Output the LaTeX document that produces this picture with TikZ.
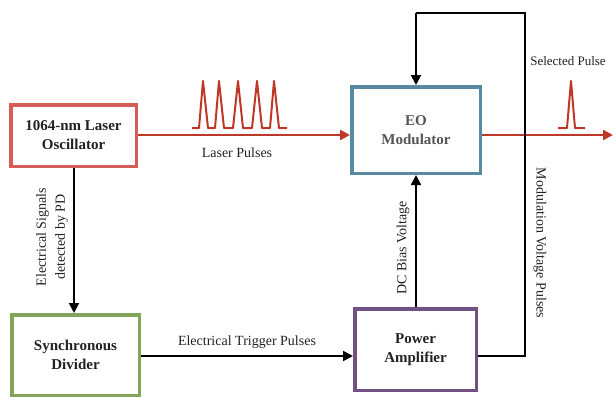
\documentclass[tikz,border=0pt]{standalone}
\usepackage{fontspec}
\setmainfont{Liberation Serif}
\usetikzlibrary{arrows.meta}
\definecolor{laserred}{HTML}{D55E5A}
\definecolor{eoblue}{HTML}{588AA3}
\definecolor{syncgreen}{HTML}{82A55A}
\definecolor{amppurple}{HTML}{735082}
\definecolor{beamred}{HTML}{BE3728}
\definecolor{txt}{HTML}{222222}
\definecolor{eotxt}{HTML}{555555}
\tikzset{
  blockbox/.style={draw, line width=3.5pt, fill=white, align=center, inner sep=0pt,
    font=\fontsize{15}{19}\selectfont\bfseries, text=txt},
  beam/.style={draw=beamred, line width=2.5pt, -{Triangle[length=10pt,width=10pt]}},
  pulse/.style={draw=beamred, line width=2pt, line join=round},
  wire/.style={draw=black, line width=2pt, -{Triangle[length=10pt,width=10pt]}},
  plainwire/.style={draw=black, line width=2pt},
  lbl/.style={font=\fontsize{14}{16}\selectfont, text=txt, inner sep=0pt, align=center}
}
\begin{document}
\begin{tikzpicture}[x=1pt,y=-1pt]
\useasboundingbox (0,0) rectangle (616,399);
% blocks
\node[blockbox, draw=laserred, minimum width=125.5pt, minimum height=61.5pt] (laser) at (73.5,135.5) {1064-nm Laser\\Oscillator};
\node[blockbox, draw=eoblue, text=eotxt, minimum width=128.5pt, minimum height=86.5pt] (eo) at (416,130) {EO\\Modulator};
\node[blockbox, draw=syncgreen, minimum width=127.5pt, minimum height=80.5pt] (sync) at (75.5,355) {Synchronous\\Divider};
\node[blockbox, draw=amppurple, minimum width=121.5pt, minimum height=81.5pt] (amp) at (415.5,349.5) {Power\\Amplifier};
% coordinates
\coordinate (outend) at (613,135);
\coordinate (topleft) at (416,13);
\coordinate (topright) at (525,13);
\coordinate (botright) at (525,356);
% laser beam
\draw[beam] (laser.east |- 0,135) -- (eo.west |- 0,135);
\draw[beam] (eo.east |- 0,135) -- (outend);
% pulse train
\draw[pulse] (192,128) -- (199,128) -- (203,81) -- (208,128) -- (215,128) -- (219,81) -- (224,128)
  -- (233,128) -- (238,81) -- (243,128) -- (252,128) -- (257,81) -- (262,128)
  -- (270,128) -- (274,81) -- (279,128) -- (287,128);
% selected pulse
\draw[pulse] (558,128) -- (567,128) -- (571,81) -- (575,128) -- (585,128);
% signals
\draw[wire] (laser.south -| 74,0) -- (sync.north -| 74,0);
\draw[wire] (sync.east |- 0,356) -- (amp.west |- 0,356);
\draw[wire] (amp.north -| 416,0) -- (eo.south -| 416,0);
\draw[plainwire] (amp.east |- 0,356) -- (botright) -- (topright) -- (topleft);
\draw[wire] (topleft) -- (eo.north -| 416,0);
% labels
\node[lbl] (lp) at (237,153) {Laser Pulses};
\node[lbl, font=\fontsize{13}{15}\selectfont] (sp) at (568,61) {Selected Pulse};
\node[lbl, rotate=90, font=\fontsize{14}{19}\selectfont] (es) at (52,237) {Electrical Signals\\detected by PD};
\node[lbl] (etp) at (247,342) {Electrical Trigger Pulses};
\node[lbl, rotate=90] (dc) at (403,248) {DC Bias Voltage};
\node[lbl, rotate=-90] (mvp) at (540,243) {Modulation Voltage Pulses};
\end{tikzpicture}
\end{document}
